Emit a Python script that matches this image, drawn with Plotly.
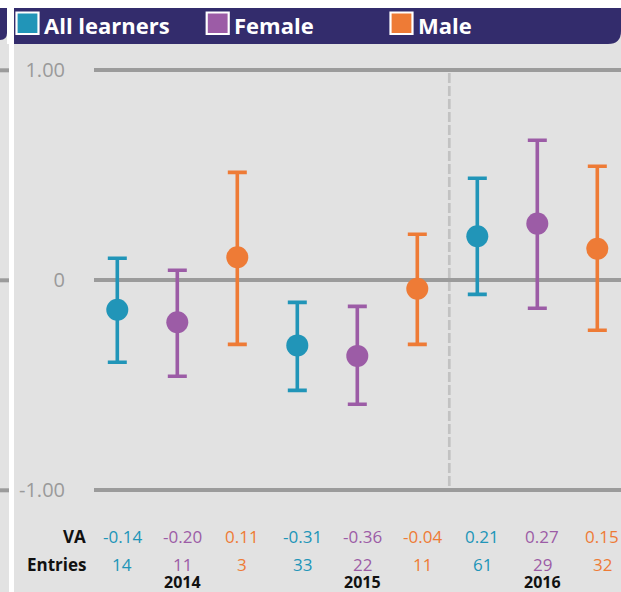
import plotly.graph_objects as go

# ---- data ----
years = ["2014", "2015", "2016"]
groups = ["All learners", "Female", "Male"]
colors = ["#2195b8", "#9c5ca6", "#ee7b36"]

va_all = [-0.14, -0.31, 0.21]
va_female = [-0.20, -0.36, 0.27]
va_male = [0.11, -0.04, 0.15]

entries_all = [14, 33, 61]
entries_female = [11, 22, 29]
entries_male = [3, 11, 32]

upper_all = [0.105, -0.105, 0.486]
lower_all = [-0.390, -0.524, -0.067]
upper_female = [0.048, -0.124, 0.667]
lower_female = [-0.457, -0.590, -0.133]
upper_male = [0.514, 0.219, 0.543]
lower_male = [-0.305, -0.305, -0.238]

y_tickvals = [-1, 0, 1]
y_ticktext = ["-1.00", "0", "1.00"]

va_sets = [va_all, va_female, va_male]
entry_sets = [entries_all, entries_female, entries_male]
upper_sets = [upper_all, upper_female, upper_male]
lower_sets = [lower_all, lower_female, lower_male]

# ---- geometry helpers (pixels -> paper) ----
W, H = 621, 592
ML = 94
PW = W - ML


def px(x):
    return (x - ML) / PW


def py(y):
    return 1 - y / H


FONT = "Open Sans, Noto Sans, sans-serif"

fig = go.Figure()

for gi, name in enumerate(groups):
    xs = [yi * 3 + gi for yi in range(len(years))]
    v = va_sets[gi]
    up = [u - a for u, a in zip(upper_sets[gi], v)]
    dn = [a - l for a, l in zip(v, lower_sets[gi])]
    fig.add_trace(go.Scatter(
        x=xs, y=v, mode="markers", name=name,
        marker=dict(size=22, color=colors[gi]),
        error_y=dict(type="data", symmetric=False, array=up, arrayminus=dn,
                     color=colors[gi], thickness=3.6, width=9.5),
        showlegend=False,
    ))

annotations = []
shapes = []

# table rows
for gi in range(len(groups)):
    for yi in range(len(years)):
        x = yi * 3 + gi
        annotations.append(dict(
            x=x, y=py(536), xref="x", yref="paper", xshift=5,
            text=f"{va_sets[gi][yi]:.2f}", showarrow=False,
            font=dict(family=FONT, size=17, color=colors[gi]),
            xanchor="center", yanchor="middle"))
        annotations.append(dict(
            x=x, y=py(564), xref="x", yref="paper", xshift=5,
            text=str(entry_sets[gi][yi]), showarrow=False,
            font=dict(family=FONT, size=17, color=colors[gi]),
            xanchor="center", yanchor="middle"))
for yi, yr in enumerate(years):
    annotations.append(dict(
        x=yi * 3 + 1, y=py(582), xref="x", yref="paper", xshift=5,
        text=f"<b>{yr}</b>", showarrow=False,
        font=dict(family=FONT, size=16, color="#111111"),
        xanchor="center", yanchor="middle"))
for label, yy in [("VA", 536), ("Entries", 564)]:
    annotations.append(dict(
        x=px(88), y=py(yy), xref="paper", yref="paper",
        text=f"<b>{label}</b>", showarrow=False,
        font=dict(family=FONT, size=17, color="#111111"),
        xanchor="right", yanchor="middle"))

# background decorations
shapes.append(dict(type="rect", xref="paper", yref="paper", layer="below",
                   x0=px(0), x1=px(W), y0=py(0), y1=py(8),
                   fillcolor="white", line=dict(width=0)))
shapes.append(dict(type="rect", xref="paper", yref="paper", layer="below",
                   x0=px(7), x1=px(14), y0=py(8), y1=py(44),
                   fillcolor="white", line=dict(width=0)))
shapes.append(dict(type="rect", xref="paper", yref="paper", layer="below",
                   x0=px(9), x1=px(14), y0=py(44), y1=py(H),
                   fillcolor="white", line=dict(width=0)))
# gridline stubs on the left panel
for v in y_tickvals:
    shapes.append(dict(type="line", xref="paper", yref="y", layer="below",
                       x0=px(0), x1=px(9), y0=v, y1=v,
                       line=dict(color="#9b9b9b", width=4)))
# vertical dashed separator
shapes.append(dict(type="line", xref="x", yref="paper", layer="below",
                   x0=5.533, x1=5.533, y0=py(73), y1=py(490),
                   line=dict(color="#c2c2c2", width=2.7, dash="10px,3px")))

NAVY = "#332c6c"


def rounded_br(x0, y0, x1, y1, r):
    return (f"M {px(x0)},{py(y0)} L {px(x1)},{py(y0)} L {px(x1)},{py(y1 - r)} "
            f"Q {px(x1)},{py(y1)} {px(x1 - r)},{py(y1)} L {px(x0)},{py(y1)} Z")


shapes.append(dict(type="path", xref="paper", yref="paper", layer="above",
                   path=rounded_br(14, 8, W, 44, 13),
                   fillcolor=NAVY, line=dict(width=0)))
shapes.append(dict(type="path", xref="paper", yref="paper", layer="above",
                   path=rounded_br(0, 8, 7, 40, 7),
                   fillcolor=NAVY, line=dict(width=0)))

# header legend
sq_left = [16.5, 206.7, 390.5]
for gi, name in enumerate(groups):
    x0 = sq_left[gi]
    shapes.append(dict(type="rect", xref="paper", yref="paper", layer="above",
                       x0=px(x0), x1=px(x0 + 22), y0=py(12.5), y1=py(34),
                       fillcolor=colors[gi], line=dict(color="white", width=2.2)))
    annotations.append(dict(
        x=px(x0 + 25.5), y=py(25), xref="paper", yref="paper",
        text=f"<b>{name}</b>", showarrow=False,
        font=dict(family=FONT, size=22, color="white"),
        xanchor="left", yanchor="middle"))

fig.update_layout(
    width=W, height=H,
    margin=dict(l=ML, r=0, t=0, b=0),
    paper_bgcolor="#e2e2e2", plot_bgcolor="#e2e2e2",
    showlegend=False,
    xaxis=dict(range=[(ML - 117.3) / 60, (W - 117.3) / 60], visible=False,
               fixedrange=True),
    yaxis=dict(range=[(280.3 - H) / 210, 280.3 / 210],
               tickvals=y_tickvals, ticktext=y_ticktext,
               showgrid=True, gridcolor="#9b9b9b", gridwidth=4,
               zeroline=True, zerolinecolor="#9b9b9b", zerolinewidth=4,
               showline=False, ticks="", ticklabelstandoff=28,
               tickfont=dict(family=FONT, size=20, color="#9a9a9a"),
               fixedrange=True),
    shapes=shapes, annotations=annotations,
)

fig.write_html(
    "out.html",
    config={"displayModeBar": False},
    post_script="document.body.style.margin='0';document.body.style.overflow='hidden';",
)
